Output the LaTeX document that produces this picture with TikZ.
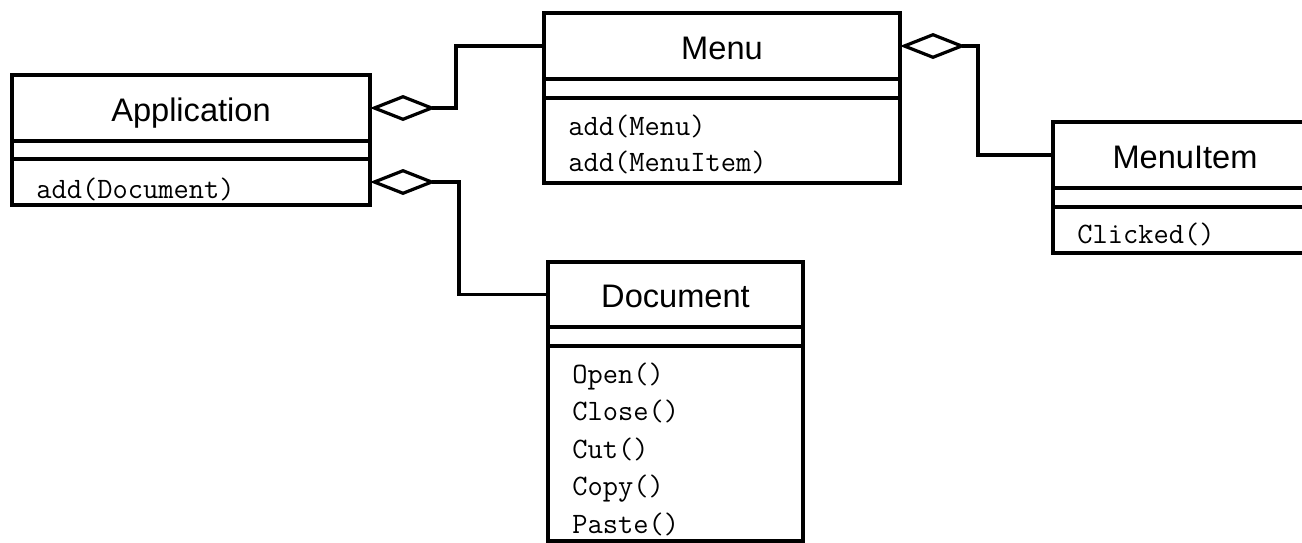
\documentclass[tikz,border=0pt]{standalone}
\usepackage{fontspec}
\setmainfont{Liberation Sans}
\usetikzlibrary{arrows.meta}

\tikzset{
  classtitle/.style={draw, line width=2pt, anchor=north west, inner sep=0pt, outer sep=0pt,
    text height=13pt, text depth=0pt, font=\fontsize{16.3pt}{19pt}\selectfont},
  classpart/.style={draw, line width=2pt, anchor=north west, inner sep=0pt, outer sep=0pt},
  method/.style={anchor=base west, inner sep=0pt, font=\ttfamily\fontsize{14.8pt}{17pt}\selectfont},
  aggregation/.style={line width=1.6pt, -{Diamond[open,length=33pt,width=13pt]}}
}

\begin{document}
\begin{tikzpicture}[x=1pt,y=1pt]
\useasboundingbox (0,0) rectangle (651,-271);
\clip (0,0) rectangle (651,-271);

% Application
\node[classtitle, minimum width=179pt, minimum height=33pt] (app-title) at (6,-37.5) {Application};
\node[classpart, minimum width=179pt, minimum height=9pt] (app-attr) at (app-title.south west) {};
\node[classpart, minimum width=179pt, minimum height=23pt] (app-ops) at (app-attr.south west) {};
\node[method] (app-m1) at ([shift={(12,-19.5)}]app-ops.north west) {add(Document)};

% Menu
\node[classtitle, minimum width=178pt, minimum height=33pt] (menu-title) at (272,-6.5) {Menu};
\node[classpart, minimum width=178pt, minimum height=9.5pt] (menu-attr) at (menu-title.south west) {};
\node[classpart, minimum width=178pt, minimum height=42.5pt] (menu-ops) at (menu-attr.south west) {};
\foreach \m [count=\i] in {add(Menu),add(MenuItem)}
  \node[method] (menu-m\i) at ([shift={(12,{-18.5-(\i-1)*18})}]menu-ops.north west) {\m};

% MenuItem
\node[classtitle, minimum width=132pt, minimum height=33pt] (item-title) at (526.5,-61) {MenuItem};
\node[classpart, minimum width=132pt, minimum height=9.5pt] (item-attr) at (item-title.south west) {};
\node[classpart, minimum width=132pt, minimum height=23pt] (item-ops) at (item-attr.south west) {};
\node[method] (item-m1) at ([shift={(12,-18)}]item-ops.north west) {Clicked()};

% Document
\node[classtitle, minimum width=127.5pt, minimum height=32.5pt] (doc-title) at (274,-131) {Document};
\node[classpart, minimum width=127.5pt, minimum height=9.5pt] (doc-attr) at (doc-title.south west) {};
\node[classpart, minimum width=127.5pt, minimum height=97.5pt] (doc-ops) at (doc-attr.south west) {};
\foreach \m [count=\i] in {Open(),Close(),Cut(),Copy(),Paste()}
  \node[method] (doc-m\i) at ([shift={(12,{-18.5-(\i-1)*18.75})}]doc-ops.north west) {\m};

% aggregations
\draw[aggregation] (menu-title.west) -- ++(-44,0) |- (app-title.east);
\draw[aggregation] (doc-title.west) -- ++(-44.5,0) |- (app-ops.east);
\draw[aggregation] (item-title.west) -- ++(-37.5,0) |- (menu-title.east);
\end{tikzpicture}
\end{document}
